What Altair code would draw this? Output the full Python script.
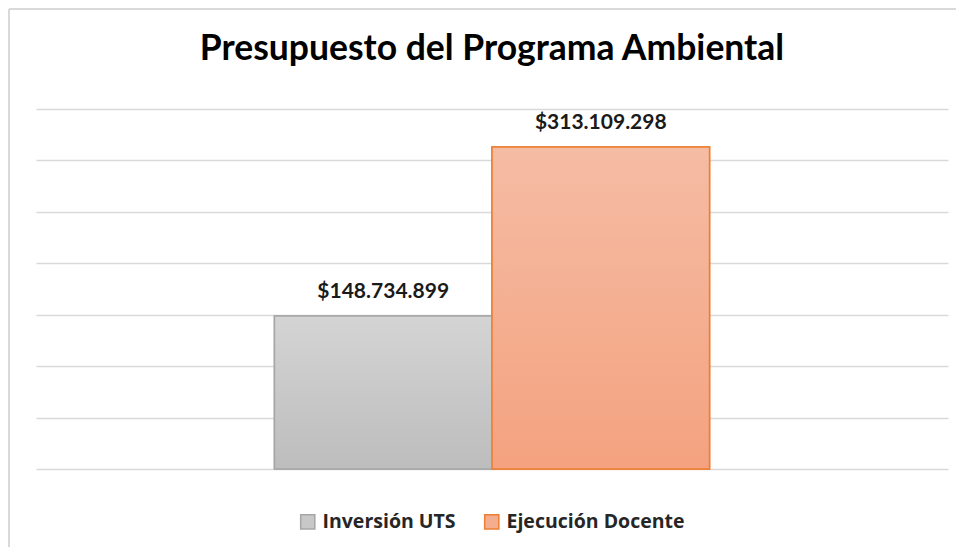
import altair as alt
import pandas as pd

series = ["Inversión UTS", "Ejecución Docente"]
values = [148734899, 313109298]
group = ["Presupuesto", "Presupuesto"]
fill_colors = ["#c8c8c8", "#f5ad8f"]
stroke_colors = ["#a6a6a6", "#ed7d31"]
grid_values = [0, 50000000, 100000000, 150000000, 200000000, 250000000, 300000000, 350000000]

labels = ["$" + f"{v:,}".replace(",", ".") for v in values]
df = pd.DataFrame({"grupo": group, "serie": series, "valor": values, "etiqueta": labels})

W, H = 912, 360
PAD_L, PAD_T = 28, 101
PAD_R = 948 - PAD_L - W
PAD_B = 539 - PAD_T - H

x_enc = alt.X("grupo:N", axis=None,
              scale=alt.Scale(paddingInner=0, paddingOuter=0.548))
xo_enc = alt.XOffset("serie:N", sort=series,
                     scale=alt.Scale(paddingInner=0, paddingOuter=0))
y_enc = alt.Y("valor:Q", title=None,
              scale=alt.Scale(domain=[0, 350000000], nice=False),
              axis=alt.Axis(values=grid_values, labels=False, ticks=False, domain=False,
                            grid=True, gridColor="#d9d9d9", gridWidth=1.5))

base = alt.Chart(df)

bars = base.mark_bar(strokeWidth=1.5).encode(
    x=x_enc, xOffset=xo_enc,
    y=y_enc,
    fill=alt.Fill("serie:N", sort=series, title=None,
                  scale=alt.Scale(domain=series, range=fill_colors),
                  legend=alt.Legend(orient="none", legendX=262, legendY=403,
                                    direction="horizontal", symbolType="square",
                                    symbolSize=200, symbolStrokeWidth=1.5,
                                    labelFont="Open Sans", labelFontSize=19.5,
                                    labelFontWeight="bold", labelColor="#262626",
                                    labelOffset=5, columnPadding=25, labelLimit=400)),
    stroke=alt.Stroke("serie:N", sort=series, title=None,
                      scale=alt.Scale(domain=series, range=stroke_colors)),
)

grad_gray = alt.Gradient(gradient="linear", x1=0, y1=0, x2=0, y2=1,
                         stops=[alt.GradientStop(color="#d4d4d4", offset=0),
                                alt.GradientStop(color="#bdbdbd", offset=1)])
grad_orange = alt.Gradient(gradient="linear", x1=0, y1=0, x2=0, y2=1,
                           stops=[alt.GradientStop(color="#f5bca4", offset=0),
                                  alt.GradientStop(color="#f4a27f", offset=1)])

bar_gray = base.transform_filter(alt.datum.serie == series[0]).mark_bar(
    fill=grad_gray, stroke=stroke_colors[0], strokeWidth=1.5).encode(
    x=x_enc, xOffset=xo_enc, y=y_enc)
bar_orange = base.transform_filter(alt.datum.serie == series[1]).mark_bar(
    fill=grad_orange, stroke=stroke_colors[1], strokeWidth=1.5).encode(
    x=x_enc, xOffset=xo_enc, y=y_enc)

text = base.mark_text(font="Lato", fontSize=21, fontWeight="bold", color="#1a1a1a",
                      baseline="alphabetic", dy=-18).encode(
    x=x_enc, xOffset=xo_enc, y=y_enc, text="etiqueta:N")

frame = alt.Chart(alt.Data(values=[{}]))
border_top = frame.mark_rule(color="#d9d9d9", strokeWidth=2).encode(
    x=alt.value(-PAD_L + 1), x2=alt.value(W + PAD_R), y=alt.value(-PAD_T + 1))
border_left = frame.mark_rule(color="#d9d9d9", strokeWidth=2).encode(
    x=alt.value(-PAD_L + 1), y=alt.value(-PAD_T + 1), y2=alt.value(H + PAD_B))

chart = alt.layer(bars, bar_gray, bar_orange, text, border_top, border_left).properties(
    width=W, height=H,
    background="white",
    padding={"left": PAD_L, "top": PAD_T, "right": PAD_R, "bottom": PAD_B},
    autosize=alt.AutoSizeParams(type="none"),
    title=alt.TitleParams("Presupuesto del Programa Ambiental", font="Lato",
                          fontSize=35.5, fontWeight="bold", color="#000000",
                          anchor="middle", frame="group", offset=-59),
).configure_view(stroke=None)

chart.save("out.html", embed_options={"renderer": "svg", "actions": False})
